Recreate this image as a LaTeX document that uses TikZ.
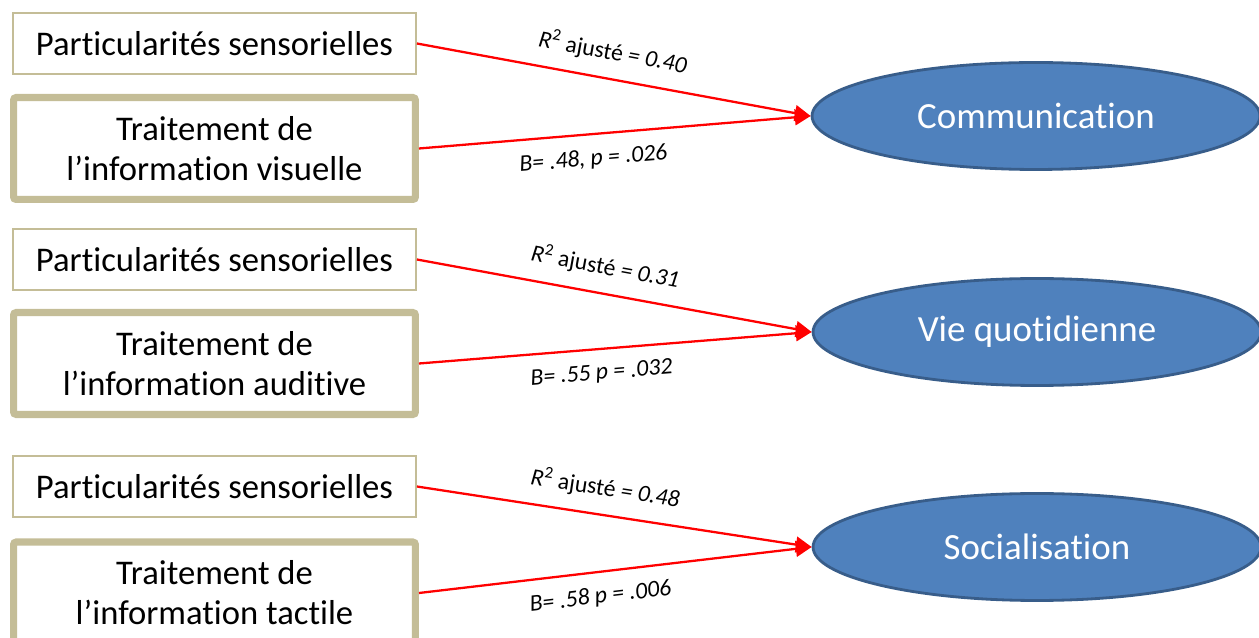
\documentclass[tikz,border=0pt]{standalone}
\usepackage{fontspec}
\setmainfont{Carlito}[Ligatures={NoCommon,NoContextual}, RawFeature={-liga;-clig;-calt;-dlig}]
\usetikzlibrary{shapes.geometric}
\usetikzlibrary{arrows.meta}
\definecolor{tan}{HTML}{C4BD97}
\definecolor{bleu}{HTML}{4F81BD}
\definecolor{bleufonce}{HTML}{385D8A}

\begin{document}
\begin{tikzpicture}[x=0.02cm, y=-0.02cm,
	boxfine/.style={draw=tan, line width=1.1pt, fill=white, minimum width=8.06cm, minimum height=1.22cm, inner sep=0pt, font=\fontsize{19.7}{22.7}\selectfont},
	boxepais/.style={draw=tan, line width=4pt, rounded corners=1.5pt, fill=white, minimum width=8.04cm, minimum height=2.04cm, inner sep=0pt, align=center, font=\fontsize{19.7}{22.7}\selectfont},
	varnode/.style={ellipse, draw=bleufonce, line width=1.6pt, fill=bleu, text=white, minimum width=8.96cm, minimum height=2.14cm, inner sep=0pt, font=\fontsize{21}{24}\selectfont},
	fleche/.style={red, line width=1.3pt, -{Triangle[length=9pt, width=9pt]}},
	coef/.style={sloped, text=black, font=\fontsize{13.5}{16}\selectfont\itshape, inner sep=0pt}
]
% cadre de l'image
\path[use as bounding box, clip] (0,0) rectangle (1259,638);

% communication
\node[boxfine] (ps1) at (214.5,43.5) {Particularités sensorielles};
\node[boxepais] (tv) at (214.5,148.5) {Traitement de\\l’information visuelle};
\node[varnode] (com) at (1036,116) {Communication};
\draw[fleche] (ps1.east) -- (com.west) node[coef, pos=0.485, above=8pt] (r1) {R\textsuperscript{\upshape 2} {\upshape ajusté} = 0.40};
\draw[fleche] (tv.east) -- (com.west) node[coef, pos=0.44, below=8pt] (b1) {B= .48, p = .026};

% vie quotidienne
\node[boxfine] (ps2) at (214.5,259.5) {Particularités sensorielles};
\node[boxepais] (ta) at (214.5,363.5) {Traitement de\\l’information auditive};
\node[varnode] (vq) at (1037,332) {Vie quotidienne};
\draw[fleche] (ps2.east) -- (vq.west) node[coef, pos=0.465, above=8pt] (r2) {R\textsuperscript{\upshape 2} {\upshape ajusté} = 0.31};
\draw[fleche] (ta.east) -- (vq.west) node[coef, pos=0.46, below=8pt] (b2) {B= .55 p = .032};

% socialisation
\node[boxfine] (ps3) at (214.5,486.5) {Particularités sensorielles};
\node[boxepais] (tt) at (214.5,593) {Traitement de\\l’information tactile};
\node[varnode] (soc) at (1037,547) {Socialisation};
\draw[fleche] (ps3.east) -- (soc.west) node[coef, pos=0.467, above=8pt] (r3) {R\textsuperscript{\upshape 2} {\upshape ajusté} = 0.48};
\draw[fleche] (tt.east) -- (soc.west) node[coef, pos=0.455, below=8pt] (b3) {B= .58 p = .006};
\end{tikzpicture}
\end{document}
